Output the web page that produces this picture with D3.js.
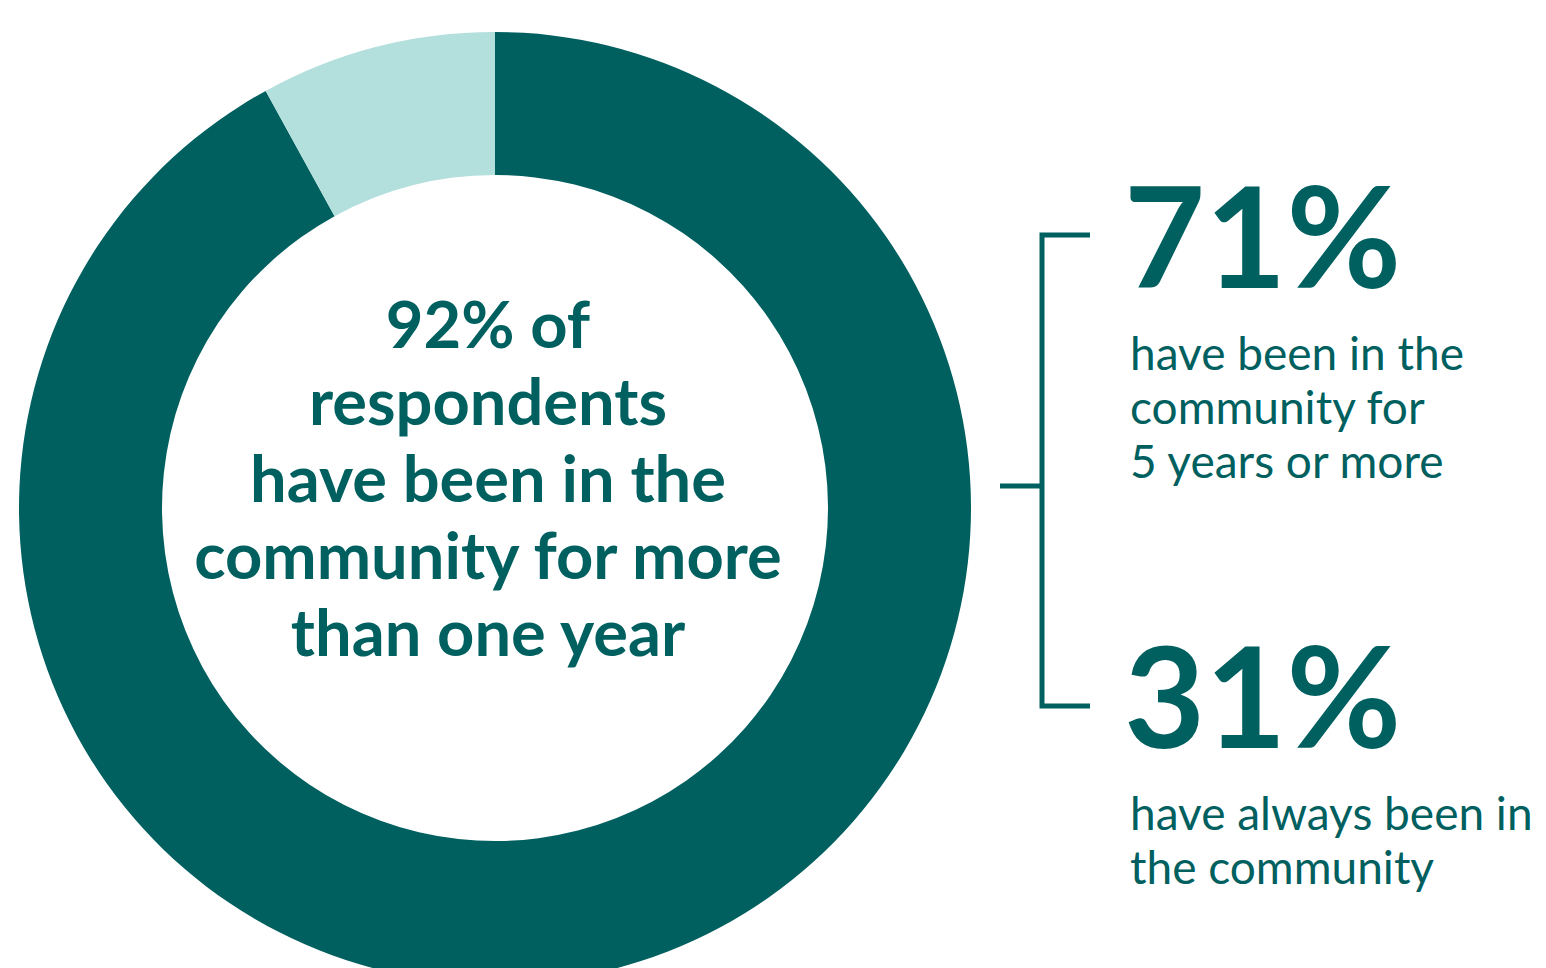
<!DOCTYPE html>
<html><head><meta charset="utf-8">
<script src="https://cdn.jsdelivr.net/npm/d3@7"></script>
<style>body{margin:0;background:#fff}svg{display:block}</style>
</head><body>
<svg id="c" width="1546" height="968"></svg>
<script>
const categories = ["More than one year", "One year or less"];
const values = [92, 8];
const colors = ["#005f5f", "#b3dfdc"];
const centerLines = ["92% of", "respondents", "have been in the", "community for more", "than one year"];
const stats = ["71%", "31%"];
const statLines = [["have been in the", "community for", "5 years or more"], ["have always been in", "the community"]];

const svg = d3.select("#c");
const dark = "#005f5f";
const font = "Lato, 'Noto Sans', sans-serif";
const cx = 495, cy = 508, rO = 476, rI = 333;

const pie = d3.pie().sort(null).value(d => d)
  .startAngle(0).endAngle(2 * Math.PI);
const arc = d3.arc().innerRadius(rI).outerRadius(rO);
const g = svg.append("g").attr("transform", `translate(${cx},${cy})`);
g.selectAll("path").data(pie(values)).join("path")
  .attr("d", arc).attr("fill", (d, i) => colors[i]);

const ct = svg.append("text").attr("text-anchor", "middle")
  .attr("font-family", font).attr("font-weight", 700)
  .attr("font-size", 65).attr("fill", dark);
centerLines.forEach((l, i) => {
  ct.append("tspan").attr("x", 488).attr("y", 348 + i * 77).text(l);
});

// bracket
const b = svg.append("g").attr("stroke", dark).attr("stroke-width", 5).attr("fill", "none");
b.append("path").attr("d", "M1090,235 H1042 V706 H1090");
b.append("line").attr("x1", 1000).attr("x2", 1042).attr("y1", 486).attr("y2", 486);

const statY = [288, 748];
const descY = [370, 830];
stats.forEach((s, i) => {
  svg.append("text").attr("x", 1124).attr("y", statY[i])
    .attr("font-family", font).attr("font-weight", 700)
    .attr("font-size", 140).attr("fill", dark).text(s);
  const t = svg.append("text").attr("font-family", font)
    .attr("font-size", 46).attr("fill", dark);
  statLines[i].forEach((l, j) => {
    t.append("tspan").attr("x", 1130).attr("y", descY[i] + j * 54).text(l);
  });
});
</script>
</body></html>
